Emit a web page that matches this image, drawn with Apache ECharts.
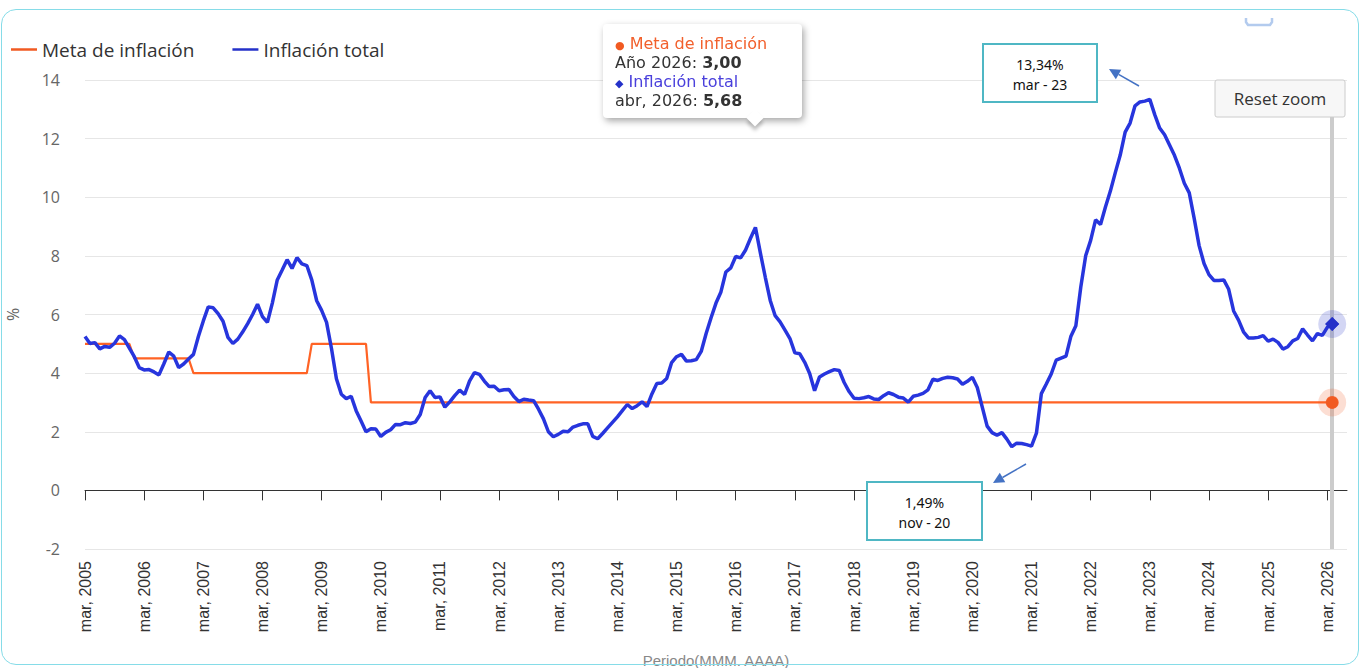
<!DOCTYPE html>
<html>
<head>
<meta charset="utf-8">
<title>Inflación total y meta de inflación</title>
<script src="https://cdn.jsdelivr.net/npm/echarts@6/dist/echarts.min.js"></script>
<style>
html, body { margin: 0; padding: 0; background: #fff; }
#chart { position: absolute; left: 0; top: 0; width: 1367px; height: 668px; }
.frame {
  position: absolute; left: 1px; top: 9px; width: 1356px; height: 654px;
  border: 1.5px solid #86dce8; border-radius: 15px; pointer-events: none;
}
.tip { position: relative; width: 175px; font: 16px/19px 'DejaVu Sans', sans-serif; color: #333; }
.tip .fila { height: 19px; white-space: nowrap; }
.tip .pico {
  position: absolute; left: 134px; bottom: -14px; width: 12px; height: 12px; background: #fff;
  transform: rotate(45deg); box-shadow: 3px 3px 4px rgba(0, 0, 0, 0.25);
}
</style>
</head>
<body>
<div id="chart"></div>
<div class="frame"></div>
<script>
// eje x: meses desde mar 2005 hasta jul 2026
const mesesCortos = ['ene', 'feb', 'mar', 'abr', 'may', 'jun', 'jul', 'ago', 'sep', 'oct', 'nov', 'dic']
const inicio = { anio: 2005, mes: 2 }
const fin = { anio: 2026, mes: 6 }

// meta anual del banco central
const metaAnios = [2005, 2006, 2007, 2008, 2009, 2010, 2011, 2012, 2013, 2014, 2015,
  2016, 2017, 2018, 2019, 2020, 2021, 2022, 2023, 2024, 2025, 2026]
const metaValores = [5, 4.5, 4, 4, 5, 3, 3, 3, 3, 3, 3,
  3, 3, 3, 3, 3, 3, 3, 3, 3, 3, 3]

// inflación total anual (%), un valor por mes desde mar 2005
const inflacionTotal = [
  5.25, 5.01, 5.04, 4.83, 4.91, 4.88, 5.02, 5.27, 5.14, 4.85, // 2005
  4.56, 4.19, 4.11, 4.12, 4.04, 3.94, 4.32, 4.72, 4.58, 4.19, 4.31, 4.48, // 2006
  4.64, 5.25, 5.78, 6.26, 6.23, 6.03, 5.77, 5.22, 5.01, 5.16, 5.41, 5.69, // 2007
  6.00, 6.35, 5.93, 5.73, 6.39, 7.18, 7.52, 7.87, 7.57, 7.94, 7.73, 7.67, // 2008
  7.18, 6.47, 6.14, 5.73, 4.84, 3.81, 3.28, 3.13, 3.21, 2.72, 2.37, 2.00, // 2009
  2.10, 2.09, 1.84, 1.98, 2.07, 2.25, 2.24, 2.31, 2.28, 2.33, 2.59, 3.17, // 2010
  3.40, 3.17, 3.19, 2.84, 3.02, 3.23, 3.42, 3.27, 3.73, 4.02, 3.96, 3.73, // 2011
  3.54, 3.55, 3.40, 3.43, 3.44, 3.20, 3.03, 3.11, 3.08, 3.06, 2.77, 2.44, // 2012
  2.00, 1.83, 1.91, 2.02, 2.00, 2.16, 2.22, 2.27, 2.27, 1.84, 1.76, 1.94, // 2013
  2.13, 2.32, 2.51, 2.72, 2.93, 2.79, 2.89, 3.02, 2.86, 3.29, 3.65, 3.66, // 2014
  3.82, 4.36, 4.56, 4.64, 4.41, 4.42, 4.46, 4.74, 5.35, 5.89, 6.39, 6.77, // 2015
  7.45, 7.59, 7.98, 7.93, 8.20, 8.60, 8.97, 8.10, 7.27, 6.48, 5.96, 5.75, // 2016
  5.47, 5.18, 4.69, 4.66, 4.37, 3.99, 3.40, 3.87, 3.97, 4.05, 4.12, 4.09, // 2017
  3.68, 3.37, 3.14, 3.13, 3.16, 3.20, 3.12, 3.10, 3.23, 3.33, 3.27, 3.18, // 2018
  3.15, 3.01, 3.21, 3.25, 3.31, 3.43, 3.79, 3.75, 3.82, 3.86, 3.84, 3.80, // 2019
  3.62, 3.72, 3.86, 3.51, 2.85, 2.19, 1.97, 1.88, 1.97, 1.75, 1.49, 1.61, // 2020
  1.60, 1.56, 1.51, 1.95, 3.30, 3.63, 3.97, 4.44, 4.51, 4.58, 5.26, 5.62, // 2021
  6.94, 8.01, 8.53, 9.23, 9.07, 9.67, 10.21, 10.84, 11.44, 12.22, 12.53, 13.12, // 2022
  13.25, 13.28, 13.34, 12.82, 12.36, 12.13, 11.78, 11.43, 10.99, 10.48, 10.15, 9.28, // 2023
  8.35, 7.74, 7.36, 7.16, 7.16, 7.18, 6.86, 6.12, 5.81, 5.41, 5.20, 5.20, // 2024
  5.22, 5.28, 5.09, 5.16, 5.05, 4.82, 4.90, 5.10, 5.18, 5.51, 5.30, 5.10, // 2025
  5.35, 5.29, 5.56, 5.68, // 2026
]

const colorMeta = '#f15a22'
const colorTotal = '#2431c9'

const categorias = []
const mesDe = []
const anioDe = []
for (let a = inicio.anio, m = inicio.mes; a < fin.anio || (a === fin.anio && m <= fin.mes);) {
  categorias.push(mesesCortos[m] + ', ' + a)
  mesDe.push(m)
  anioDe.push(a)
  m++
  if (m > 11) { m = 0; a++ }
}

const metaMensual = inflacionTotal.map((v, i) => metaValores[metaAnios.indexOf(anioDe[i])])
const ultimo = inflacionTotal.length - 1

const fmt = (v) => v.toFixed(2).replace('.', ',')
const etiquetaCorta = (i) => mesesCortos[mesDe[i]] + ' - ' + String(anioDe[i]).slice(2)

let iMax = 0
let iMin = 0
inflacionTotal.forEach((v, i) => {
  if (v > inflacionTotal[iMax]) iMax = i
  if (v < inflacionTotal[iMin]) iMin = i
})

function flecha(x1, y1, x2, y2, color) {
  const dx = x2 - x1
  const dy = y2 - y1
  const len = Math.sqrt(dx * dx + dy * dy)
  const ux = dx / len
  const uy = dy / len
  const bx = x2 - ux * 11
  const by = y2 - uy * 11
  return [
    { type: 'line', z: 100, shape: { x1: x1, y1: y1, x2: bx, y2: by }, style: { stroke: color, lineWidth: 1.5 } },
    {
      type: 'polygon', z: 100,
      shape: { points: [[x2, y2], [bx - uy * 5.5, by + ux * 5.5], [bx + uy * 5.5, by - ux * 5.5]] },
      style: { fill: color },
    },
  ]
}

function cuadro(x, y, w, h, l1, l2) {
  const font = '14px "Noto Sans", sans-serif'
  return [
    { type: 'rect', z: 100, shape: { x: x, y: y, width: w, height: h }, style: { fill: '#fff', stroke: '#4fb7c4', lineWidth: 2 } },
    { type: 'text', z: 101, style: { text: l1, x: x + w / 2, y: y + 20, font: font, fill: '#111', align: 'center', verticalAlign: 'middle' } },
    { type: 'text', z: 101, style: { text: l2, x: x + w / 2, y: y + 40, font: font, fill: '#111', align: 'center', verticalAlign: 'middle' } },
  ]
}

const graficos = [].concat(
  cuadro(983, 44, 114, 58, fmt(inflacionTotal[iMax]) + '%', etiquetaCorta(iMax)),
  flecha(1139, 86, 1109, 69, '#4472c4'),
  cuadro(867, 482, 115, 58, fmt(inflacionTotal[iMin]) + '%', etiquetaCorta(iMin)),
  flecha(1026, 464, 993, 483, '#4472c4'),
  [
    { type: 'rect', z: 100, shape: { x: 1215, y: 80, width: 130, height: 37, r: 2 }, style: { fill: '#f7f7f7', stroke: '#cccccc', lineWidth: 1 } },
    { type: 'text', z: 101, style: { text: 'Reset zoom', x: 1280, y: 98.5, font: '17px "Open Sans", sans-serif', fill: '#333', align: 'center', verticalAlign: 'middle' } },
    {
      type: 'polyline', z: 100,
      shape: { points: [[1246, 18], [1246, 22], [1248, 25], [1270, 25], [1272, 22], [1272, 18]] },
      style: { stroke: '#b3cbee', lineWidth: 2.5, fill: null },
    },
  ]
)

const chart = echarts.init(document.getElementById('chart'), null, { renderer: 'svg' })

chart.setOption({
  animation: false,
  textStyle: { fontFamily: '"Open Sans", sans-serif' },
  legend: {
    left: 6,
    top: 35,
    icon: 'rect',
    itemWidth: 26,
    itemHeight: 2.5,
    itemGap: 38,
    textStyle: { fontSize: 19, color: '#333' },
    data: ['Meta de inflación', 'Inflación total'],
  },
  grid: { left: 85, right: 20, top: 80, bottom: 119, containLabel: false, outerBoundsMode: 'none' },
  tooltip: {
    trigger: 'axis',
    triggerOn: 'none',
    alwaysShowContent: true,
    transitionDuration: 0,
    showDelay: 0,
    position: [603, 24],
    padding: [10, 12, 8, 12],
    backgroundColor: '#fff',
    borderWidth: 0,
    extraCssText: 'border-radius:4px;box-shadow:2px 3px 7px rgba(0,0,0,0.35);',
    axisPointer: { type: 'line', z: 1, lineStyle: { color: '#cccccc', width: 4, type: 'solid' } },
    formatter: function (params) {
      const pm = params.find((p) => p.seriesName === 'Meta de inflación')
      const pt = params.find((p) => p.seriesName === 'Inflación total')
      const i = pt.dataIndex
      return '<div class="tip">' +
        '<div class="fila"><span style="color:' + colorMeta + ';font-size:11px">&#9679;</span> <span style="color:#f2602c">' + pm.seriesName + '</span></div>' +
        '<div class="fila">Año ' + anioDe[i] + ': <b>' + fmt(pm.value) + '</b></div>' +
        '<div class="fila"><span style="color:' + colorTotal + ';font-size:11px">&#9670;</span> <span style="color:#4a40dc">' + pt.seriesName + '</span></div>' +
        '<div class="fila">' + categorias[i] + ': <b>' + fmt(pt.value) + '</b></div>' +
        '<div class="pico"></div>' +
        '</div>'
    },
  },
  xAxis: {
    type: 'category',
    data: categorias,
    boundaryGap: false,
    name: 'Periodo(MMM. AAAA)',
    nameLocation: 'middle',
    nameGap: 104,
    nameTextStyle: { fontSize: 15, color: '#888', fontFamily: '"Liberation Sans", Arial, sans-serif' },
    axisLine: { lineStyle: { color: '#333', width: 1 } },
    axisTick: { interval: 11, length: 10, lineStyle: { color: '#333' } },
    axisLabel: {
      interval: 11,
      rotate: 90,
      margin: 12,
      fontSize: 16,
      color: '#333',
      fontFamily: '"Liberation Sans", Arial, sans-serif',
    },
    splitLine: { show: false },
  },
  yAxis: {
    type: 'value',
    min: -2,
    max: 14,
    interval: 2,
    name: '%',
    nameLocation: 'middle',
    nameRotate: 90,
    nameGap: 64,
    nameTextStyle: { fontSize: 16, color: '#666' },
    axisLine: { show: false },
    axisTick: { show: false },
    axisLabel: { fontSize: 16, color: '#666', margin: 25 },
    splitLine: { lineStyle: { color: '#e6e6e6', width: 1 } },
  },
  series: [
    {
      name: 'Meta de inflación',
      type: 'line',
      data: metaMensual,
      color: colorMeta,
      lineStyle: { width: 2.2, color: colorMeta },
      showSymbol: false,
      symbol: 'circle',
      symbolSize: 12,
      emphasis: { scale: false, lineStyle: { width: 2.2 } },
      z: 2,
    },
    {
      name: 'Inflación total',
      type: 'line',
      data: inflacionTotal,
      color: colorTotal,
      lineStyle: { width: 3.5, color: colorTotal },
      showSymbol: false,
      symbol: 'diamond',
      symbolSize: 14,
      emphasis: { scale: false, lineStyle: { width: 3.5 } },
      z: 3,
    },
    {
      name: 'halo meta',
      type: 'scatter',
      silent: true,
      tooltip: { show: false },
      data: [[ultimo, metaMensual[ultimo]]],
      symbol: 'circle',
      symbolSize: 28,
      itemStyle: { color: 'rgba(241,90,34,0.25)' },
      z: 4,
    },
    {
      name: 'halo total',
      type: 'scatter',
      silent: true,
      tooltip: { show: false },
      data: [[ultimo, inflacionTotal[ultimo]]],
      symbol: 'circle',
      symbolSize: 28,
      itemStyle: { color: 'rgba(36,49,201,0.25)' },
      z: 4,
    },
    {
      name: 'punto meta',
      type: 'scatter',
      silent: true,
      tooltip: { show: false },
      data: [[ultimo, metaMensual[ultimo]]],
      symbol: 'circle',
      symbolSize: 13,
      itemStyle: { color: colorMeta },
      z: 5,
    },
    {
      name: 'punto total',
      type: 'scatter',
      silent: true,
      tooltip: { show: false },
      data: [[ultimo, inflacionTotal[ultimo]]],
      symbol: 'diamond',
      symbolSize: 14,
      itemStyle: { color: colorTotal },
      z: 5,
    },
  ],
  graphic: graficos,
})

chart.dispatchAction({ type: 'showTip', seriesIndex: 1, dataIndex: ultimo })
</script>
</body>
</html>
